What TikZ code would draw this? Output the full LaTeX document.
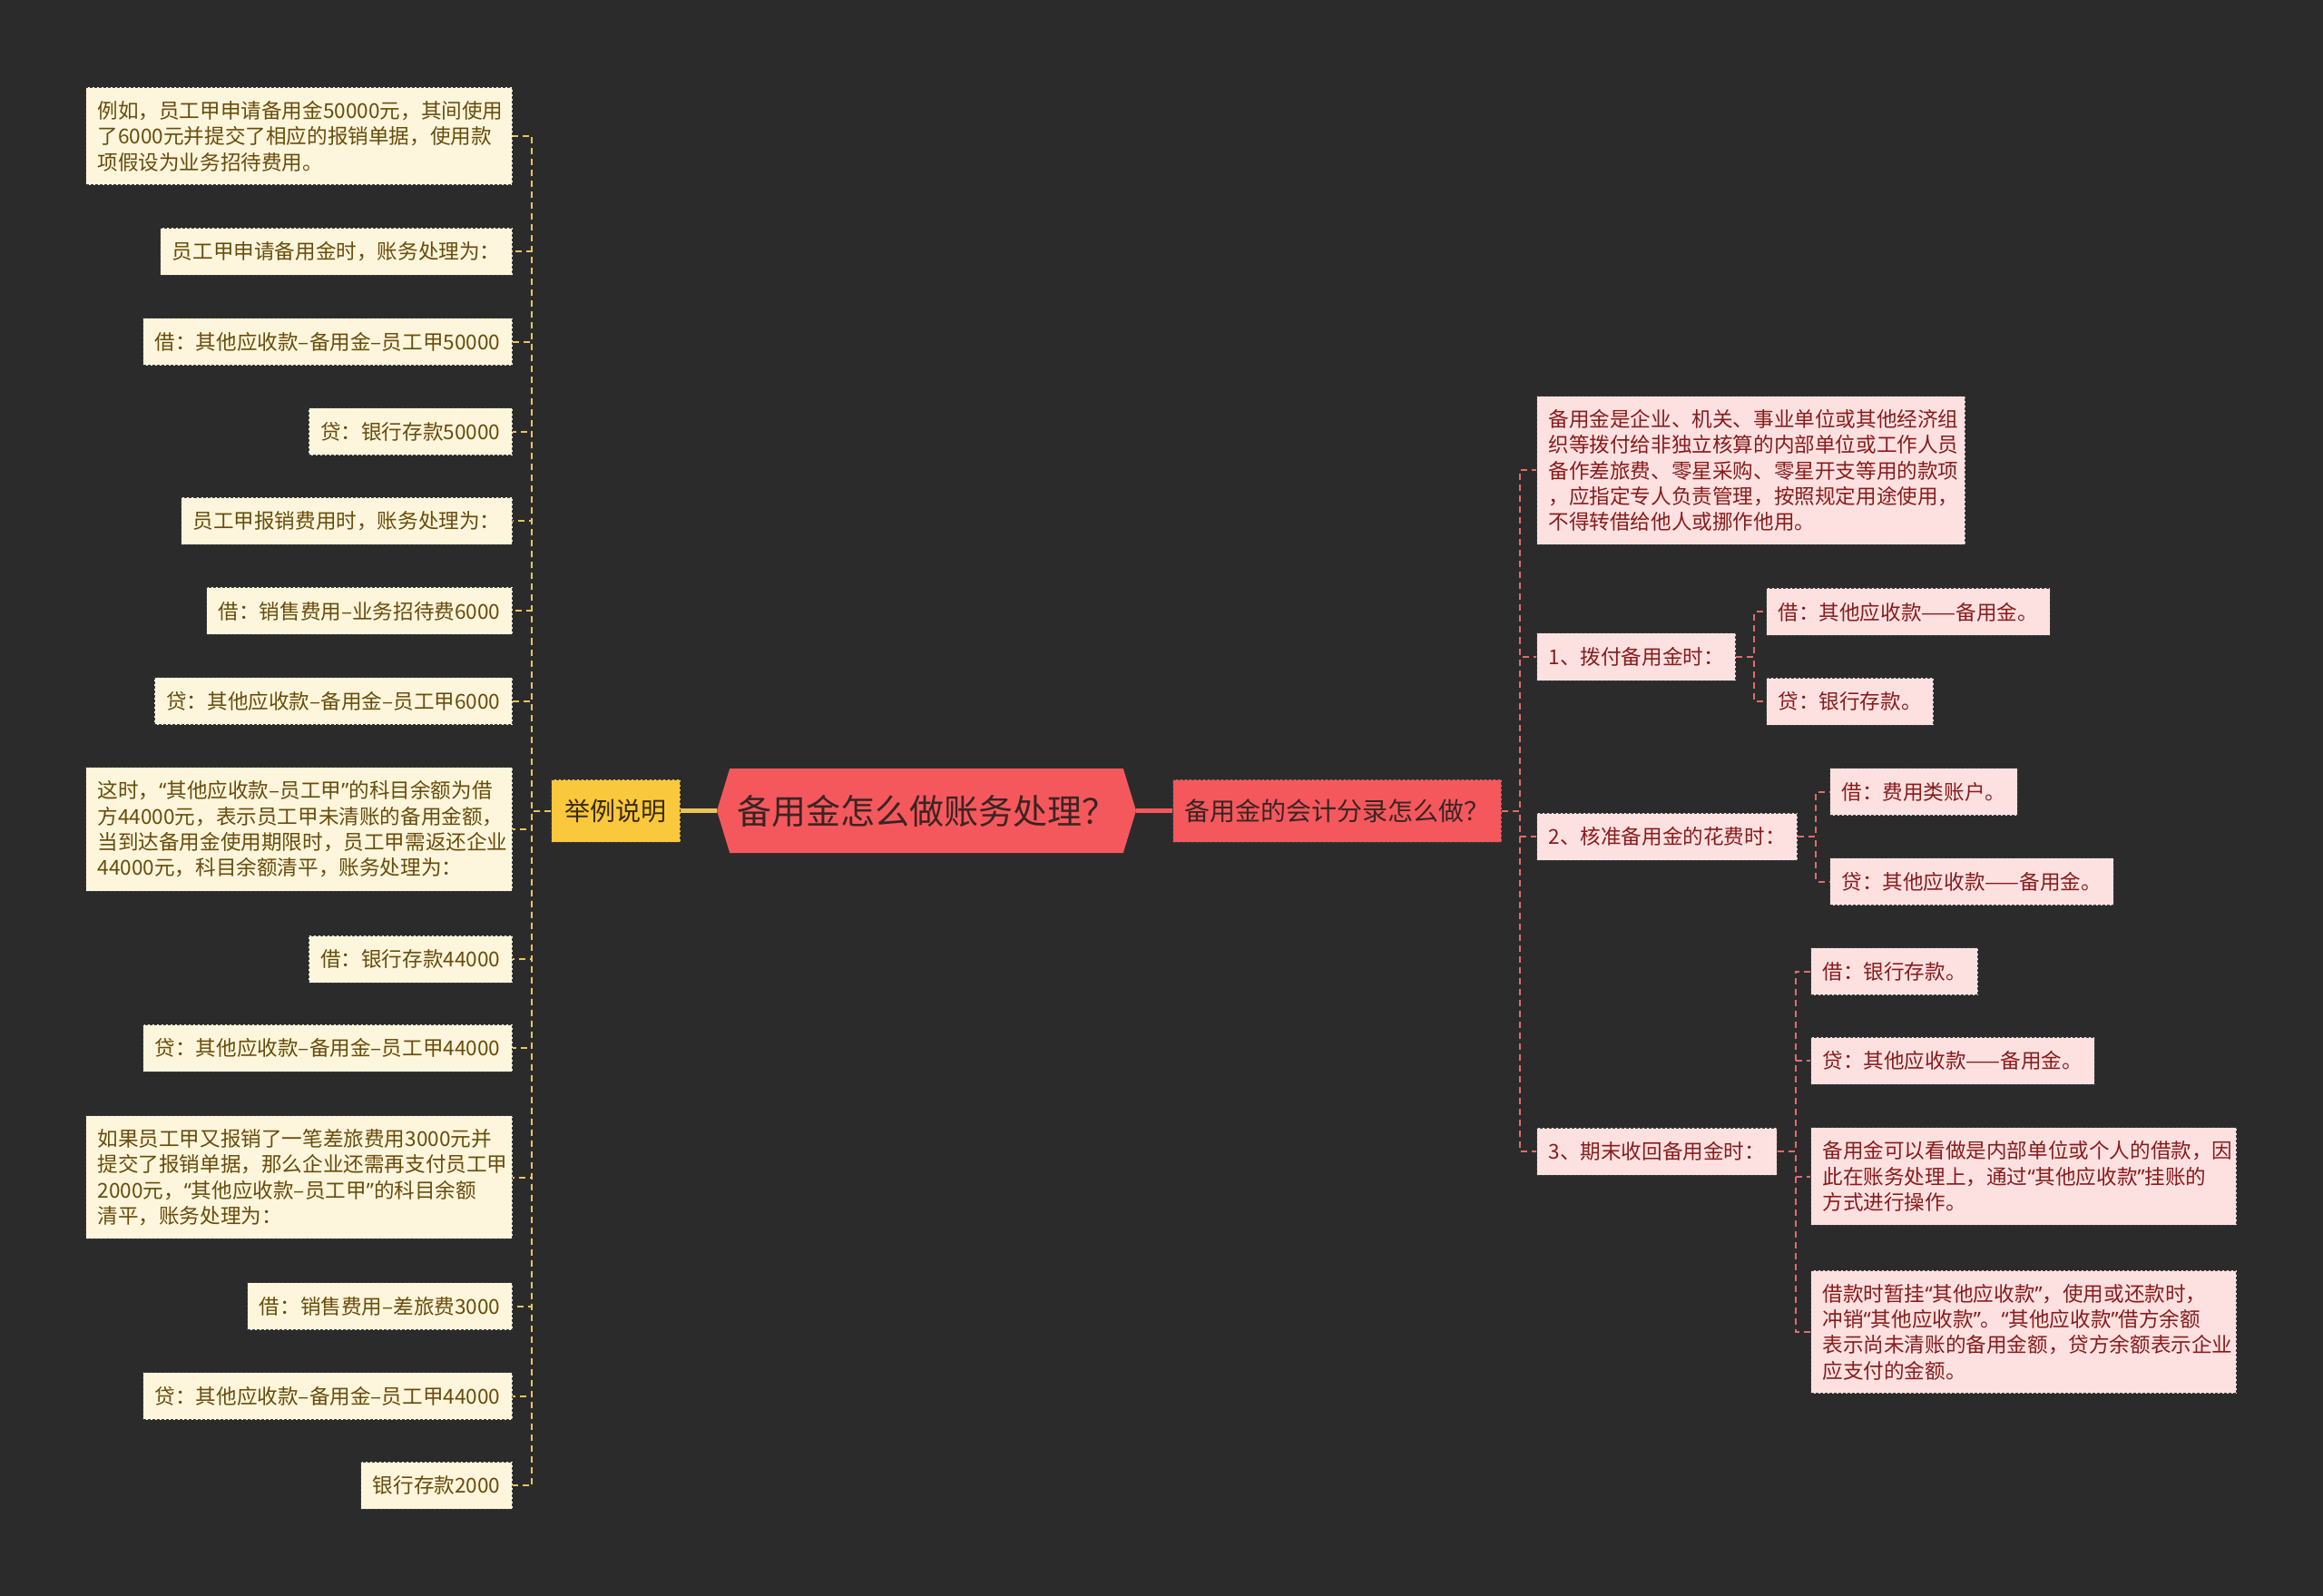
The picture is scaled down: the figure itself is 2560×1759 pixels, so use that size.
\documentclass[tikz,border=0pt]{standalone}
\usepackage{fontspec}
\setmainfont{Noto Sans CJK SC}
\newfontfamily\latinfont{Noto Sans}
\newcommand{\qo}{{\latinfont“}}
\newcommand{\qc}{{\latinfont”}}
\exhyphenpenalty=10000
\usetikzlibrary{shapes.symbols}
\definecolor{bgdark}{RGB}{43,43,43}
\definecolor{titlefill}{RGB}{245,88,92}
\definecolor{titletext}{RGB}{58,36,36}
\definecolor{yfill}{RGB}{250,200,60}
\definecolor{ytext}{RGB}{58,44,8}
\definecolor{cream}{RGB}{254,246,220}
\definecolor{creamtext}{RGB}{104,76,12}
\definecolor{pinkbox}{RGB}{253,225,225}
\definecolor{pinktext}{RGB}{136,28,28}
\definecolor{ylinkc}{RGB}{233,198,92}
\definecolor{rlinkc}{RGB}{226,108,108}
\definecolor{boxedge}{RGB}{62,62,62}

\begin{document}
\begin{tikzpicture}[x=0.5pt,y=0.5pt,yscale=-1,
  box/.style={draw=boxedge,line width=0.5pt,dash pattern=on 1.5pt off 1pt,
    inner xsep=6.5pt,inner ysep=7.3pt,minimum height=26pt,
    font=\fontsize{11.3pt}{14.2pt}\selectfont},
  lbox/.style={box,fill=cream,text=creamtext,anchor=east},
  lpara/.style={lbox,text width=222pt,align=left},
  rbox/.style={box,fill=pinkbox,text=pinktext,anchor=west},
  rpara/.style={rbox,align=left},
  mainbox/.style={box,minimum height=34.5pt,inner xsep=7.5pt,
    font=\fontsize{14pt}{17pt}\selectfont},
  title/.style={shape=signal,signal to=west and east,signal pointer angle=146,
    fill=titlefill,text=titletext,minimum width=231pt,minimum height=46.5pt,
    inner sep=0pt,font=\fontsize{19pt}{22pt}\selectfont},
  ylink/.style={draw=ylinkc,line width=1pt,dash pattern=on 3.5pt off 2.5pt},
  rlink/.style={draw=rlinkc,line width=1pt,dash pattern=on 3.5pt off 2.5pt}]

\useasboundingbox (0,0) rectangle (2560,1759);
\fill[bgdark] (0,0) rectangle (2560,1759);

% centre
\node[title] (root) at (1021,893.5) {备用金怎么做账务处理？};
\node[mainbox,fill=yfill,text=ytext,anchor=east] (ex) at (750,893.5) {举例说明};
\node[mainbox,fill=titlefill,text=titletext,anchor=west,inner xsep=6.5pt] (acct) at (1292,893.5) {备用金的会计分录怎么做？};
\draw[ylinkc,line width=2.2pt] (root.west) -- (ex.east);
\draw[titlefill,line width=2.2pt] (root.east) -- (acct.west);

% left branch
\node[lpara] (l1) at (565,150) {例如，员工甲申请备用金50000元，其间使用\\了6000元并提交了相应的报销单据，使用款\\项假设为业务招待费用。};
\node[lbox] (l2) at (565,277.5) {员工甲申请备用金时，账务处理为：};
\node[lbox] (l3) at (565,377) {借：其他应收款–备用金–员工甲50000};
\node[lbox] (l4) at (565,476) {贷：银行存款50000};
\node[lbox] (l5) at (565,574.5) {员工甲报销费用时，账务处理为：};
\node[lbox] (l6) at (565,673.5) {借：销售费用–业务招待费6000};
\node[lbox] (l7) at (565,772.5) {贷：其他应收款–备用金–员工甲6000};
\node[lpara] (l8) at (565,914) {这时，\qo 其他应收款–员工甲\qc 的科目余额为借\\方44000元，表示员工甲未清账的备用金额，\\当到达备用金使用期限时，员工甲需返还企业\\44000元，科目余额清平，账务处理为：};
\node[lbox] (l9) at (565,1057) {借：银行存款44000};
\node[lbox] (l10) at (565,1155) {贷：其他应收款–备用金–员工甲44000};
\node[lpara] (l11) at (565,1297.5) {如果员工甲又报销了一笔差旅费用3000元并\\提交了报销单据，那么企业还需再支付员工甲\\2000元，\qo 其他应收款–员工甲\qc 的科目余额\\清平，账务处理为：};
\node[lbox] (l12) at (565,1439.5) {借：销售费用–差旅费3000};
\node[lbox] (l13) at (565,1538.5) {贷：其他应收款–备用金–员工甲44000};
\node[lbox] (l14) at (565,1637) {银行存款2000};
\foreach \i in {1,...,14}
  \draw[ylink] (ex.west) -- ++(-21,0) |- (l\i.east);

% right branch
\node[rpara,text width=223pt] (ra) at (1693,518.5) {备用金是企业、机关、事业单位或其他经济组\\织等拨付给非独立核算的内部单位或工作人员\\备作差旅费、零星采购、零星开支等用的款项\\，应指定专人负责管理，按照规定用途使用，\\不得转借给他人或挪作他用。};
\node[rbox] (rb) at (1693,724) {1、拨付备用金时：};
\node[rbox] (rc) at (1693,922) {2、核准备用金的花费时：};
\node[rbox] (rd) at (1693,1269) {3、期末收回备用金时：};
\foreach \n in {ra,rb,rc,rd}
  \draw[rlink] (acct.east) -- ++(20,0) |- (\n.west);

\node[rbox] (rb1) at (1946,674.5) {借：其他应收款——备用金。};
\node[rbox] (rb2) at (1946,773) {贷：银行存款。};
\foreach \n in {rb1,rb2}
  \draw[rlink] (rb.east) -- ++(20,0) |- (\n.west);

\node[rbox] (rc1) at (2016,872.5) {借：费用类账户。};
\node[rbox] (rc2) at (2016,971.5) {贷：其他应收款——备用金。};
\foreach \n in {rc1,rc2}
  \draw[rlink] (rc.east) -- ++(20,0) |- (\n.west);

\node[rbox] (rd1) at (1995,1070.5) {借：银行存款。};
\node[rbox] (rd2) at (1995,1169) {贷：其他应收款——备用金。};
\node[rpara,text width=221.5pt] (rd3) at (1995,1296.5) {备用金可以看做是内部单位或个人的借款，因\\此在账务处理上，通过\qo 其他应收款\qc 挂账的\\方式进行操作。};
\node[rpara,text width=221.5pt] (rd4) at (1995,1468) {借款时暂挂\qo 其他应收款\qc ，使用或还款时，\\冲销\qo 其他应收款\qc 。\qo 其他应收款\qc 借方余额\\表示尚未清账的备用金额，贷方余额表示企业\\应支付的金额。};
\foreach \n in {rd1,rd2,rd3,rd4}
  \draw[rlink] (rd.east) -- ++(20,0) |- (\n.west);
\end{tikzpicture}
\end{document}
